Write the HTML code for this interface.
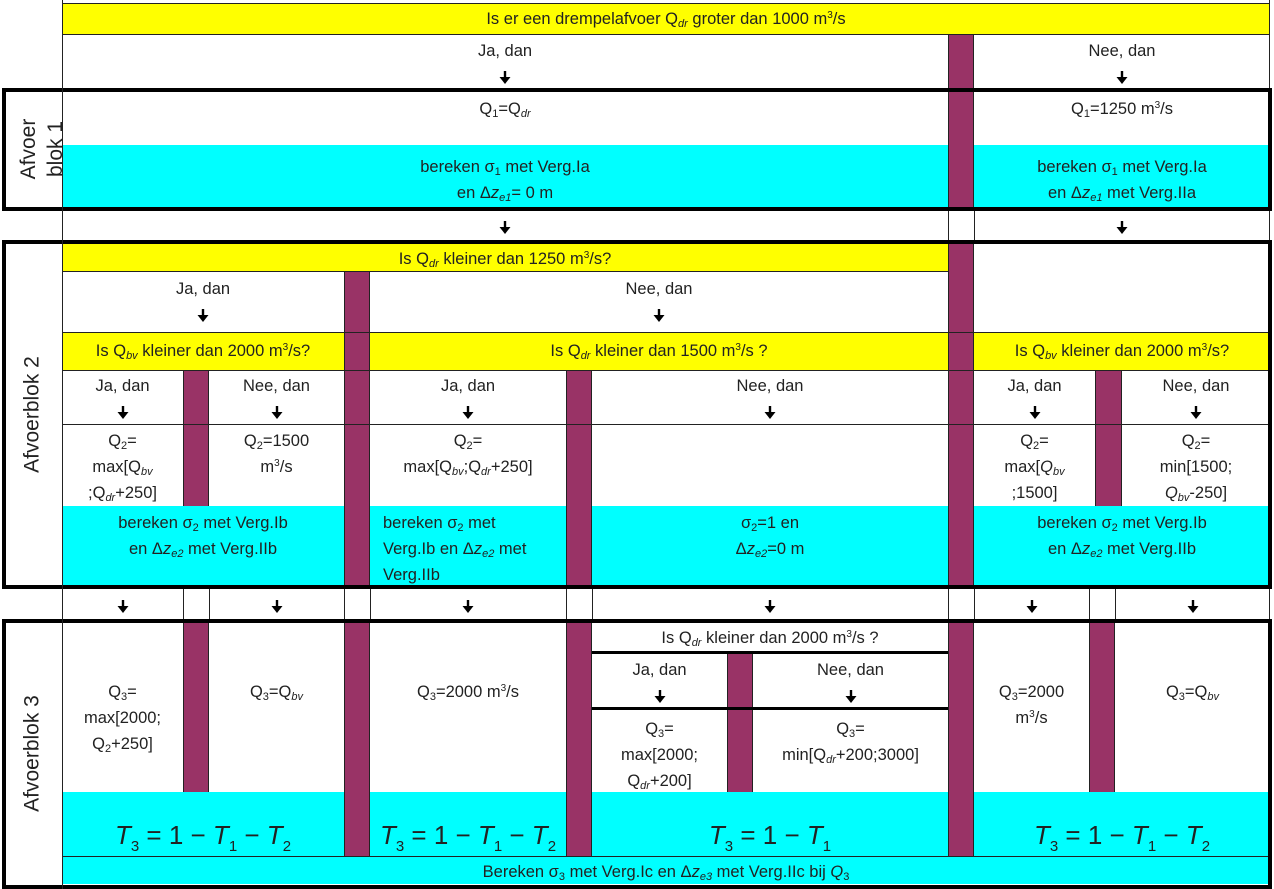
<!DOCTYPE html>
<html><head><meta charset="utf-8"><style>
body{margin:0;width:1274px;height:889px;position:relative;background:#fff;font-family:"Liberation Sans","DejaVu Sans",sans-serif;font-size:16.5px;color:#222;overflow:hidden}
div{position:absolute;box-sizing:border-box}
.t{text-align:center;line-height:26px;white-space:nowrap}
.y{background:#ffff00}.c{background:#00ffff}.p{background:#993366;border-left:1px solid #222;border-right:1px solid #222}
.hl{height:1px;background:#222}.vl{width:1px;background:#222}
.hk{height:3px;background:#000}
.blk{border:4px solid #000}
sub{font-size:11px;font-style:italic;vertical-align:-3px;line-height:0}
sub.n{font-style:normal}
sup{font-size:10px;vertical-align:6px;line-height:0}
.ar{display:inline-block;width:12px;height:13px;vertical-align:-2px}
.m{font-family:"Liberation Sans",sans-serif;font-size:26px;line-height:30px}
.m i{font-style:italic}
.m sub{font-size:15px;font-style:normal;vertical-align:-7px}
.lab{font-size:21px;transform:rotate(-90deg);transform-origin:center;text-align:center;line-height:23px;white-space:nowrap}
</style></head><body>
<svg width="0" height="0" style="position:absolute"><defs><symbol id="a" viewBox="0 0 12 13"><rect x="4.8" y="0" width="2.4" height="7" fill="#000"/><polygon points="0.5,6 11.5,6 6,13" fill="#000"/></symbol></defs></svg>
<!-- fills -->
<div class="y" style="left:62px;top:4px;width:1208px;height:30px"></div>
<div class="c" style="left:62px;top:145px;width:886px;height:63px"></div>
<div class="c" style="left:974px;top:145px;width:296px;height:63px"></div>
<div class="y" style="left:62px;top:243px;width:886px;height:28px"></div>
<div class="y" style="left:62px;top:332px;width:1208px;height:38px"></div>
<div class="c" style="left:62px;top:506px;width:1208px;height:80px"></div>
<div class="c" style="left:62px;top:792px;width:1208px;height:92px"></div>
<!-- purple -->
<div class="p" style="left:948px;top:34px;width:26px;height:176px"></div>
<div class="p" style="left:948px;top:241px;width:26px;height:347px"></div>
<div class="p" style="left:948px;top:620px;width:26px;height:236px"></div>
<div class="p" style="left:344px;top:271px;width:26px;height:317px"></div>
<div class="p" style="left:344px;top:620px;width:26px;height:236px"></div>
<div class="p" style="left:183px;top:370px;width:26px;height:136px"></div>
<div class="p" style="left:183px;top:620px;width:26px;height:172px"></div>
<div class="p" style="left:566px;top:370px;width:26px;height:218px"></div>
<div class="p" style="left:566px;top:620px;width:26px;height:236px"></div>
<div class="p" style="left:1095px;top:370px;width:27px;height:136px"></div>
<div class="p" style="left:1089px;top:620px;width:26px;height:172px"></div>
<div class="p" style="left:727px;top:652px;width:26px;height:140px"></div>
<!-- lines -->
<div class="vl" style="left:62px;top:0;height:889px"></div>
<div class="hl" style="left:62px;top:3px;width:1208px"></div>
<div class="hl" style="left:62px;top:34px;width:1208px"></div>
<div class="hl" style="left:62px;top:271px;width:886px"></div>
<div class="hl" style="left:62px;top:332px;width:1208px"></div>
<div class="hl" style="left:62px;top:370px;width:1208px"></div>
<div class="hl" style="left:62px;top:424px;width:1208px"></div>
<div class="hl" style="left:62px;top:856px;width:1208px"></div>
<div class="hk" style="left:592px;top:651px;width:356px"></div>
<div class="hk" style="left:592px;top:707px;width:356px"></div>
<div class="vl" style="left:948px;top:210px;height:31px"></div>
<div class="vl" style="left:974px;top:210px;height:31px"></div>
<div class="vl" style="left:183px;top:588px;height:32px"></div>
<div class="vl" style="left:209px;top:588px;height:32px"></div>
<div class="vl" style="left:344px;top:588px;height:32px"></div>
<div class="vl" style="left:370px;top:588px;height:32px"></div>
<div class="vl" style="left:566px;top:588px;height:32px"></div>
<div class="vl" style="left:592px;top:588px;height:32px"></div>
<div class="vl" style="left:948px;top:588px;height:32px"></div>
<div class="vl" style="left:974px;top:588px;height:32px"></div>
<div class="vl" style="left:1089px;top:588px;height:32px"></div>
<div class="vl" style="left:1115px;top:588px;height:32px"></div>
<div class="vl" style="left:1269px;top:0;height:889px"></div>
<!-- blocks -->
<div class="blk" style="left:2px;top:88px;width:1270px;height:123px"></div>
<div class="blk" style="left:2px;top:240px;width:1270px;height:349px"></div>
<div class="blk" style="left:2px;top:619px;width:1270px;height:270px"></div>
<div class="vl" style="left:62px;top:88px;height:801px"></div>
<!-- labels -->
<div class="lab" style="left:-18px;top:122px;width:120px;height:54px;line-height:27px">Afvoer<br>blok 1</div>
<div class="lab" style="left:-28px;top:403px;width:120px;height:23px">Afvoerblok 2</div>
<div class="lab" style="left:-28px;top:742px;width:120px;height:23px">Afvoerblok 3</div>
<!-- texts -->
<div class="t" style="left:62px;top:6px;width:1208px">Is er een drempelafvoer Q<sub>dr</sub> groter dan 1000 m<sup>3</sup>/s</div>
<div class="t" style="left:62px;top:38px;width:886px">Ja, dan<br><svg class="ar"><use href="#a"/></svg></div>
<div class="t" style="left:974px;top:38px;width:296px">Nee, dan<br><svg class="ar"><use href="#a"/></svg></div>
<div class="t" style="left:62px;top:96px;width:886px">Q<sub class="n">1</sub>=Q<sub>dr</sub></div>
<div class="t" style="left:974px;top:96px;width:296px">Q<sub class="n">1</sub>=1250 m<sup>3</sup>/s</div>
<div class="t" style="left:62px;top:154px;width:886px">bereken σ<sub class="n">1</sub> met Verg.Ia<br>en Δ<i>z</i><sub>e1</sub>= 0 m</div>
<div class="t" style="left:974px;top:154px;width:296px">bereken σ<sub class="n">1</sub> met Verg.Ia<br>en Δ<i>z</i><sub>e1</sub> met Verg.IIa</div>
<div class="t" style="left:62px;top:214px;width:886px"><svg class="ar"><use href="#a"/></svg></div>
<div class="t" style="left:974px;top:214px;width:296px"><svg class="ar"><use href="#a"/></svg></div>
<div class="t" style="left:62px;top:246px;width:886px">Is Q<sub>dr</sub> kleiner dan 1250 m<sup>3</sup>/s?</div>
<div class="t" style="left:62px;top:276px;width:282px">Ja, dan<br><svg class="ar"><use href="#a"/></svg></div>
<div class="t" style="left:370px;top:276px;width:578px">Nee, dan<br><svg class="ar"><use href="#a"/></svg></div>
<div class="t" style="left:62px;top:338px;width:282px">Is Q<sub>bv</sub> kleiner dan 2000 m<sup>3</sup>/s?</div>
<div class="t" style="left:370px;top:338px;width:578px">Is Q<sub>dr</sub> kleiner dan 1500 m<sup>3</sup>/s ?</div>
<div class="t" style="left:974px;top:338px;width:296px">Is Q<sub>bv</sub> kleiner dan 2000 m<sup>3</sup>/s?</div>
<div class="t" style="left:62px;top:373px;width:121px">Ja, dan<br><svg class="ar"><use href="#a"/></svg></div>
<div class="t" style="left:209px;top:373px;width:135px">Nee, dan<br><svg class="ar"><use href="#a"/></svg></div>
<div class="t" style="left:370px;top:373px;width:196px">Ja, dan<br><svg class="ar"><use href="#a"/></svg></div>
<div class="t" style="left:592px;top:373px;width:356px">Nee, dan<br><svg class="ar"><use href="#a"/></svg></div>
<div class="t" style="left:974px;top:373px;width:121px">Ja, dan<br><svg class="ar"><use href="#a"/></svg></div>
<div class="t" style="left:1122px;top:373px;width:148px">Nee, dan<br><svg class="ar"><use href="#a"/></svg></div>
<div class="t" style="left:62px;top:428px;width:121px">Q<sub class="n">2</sub>=<br>max[Q<sub>bv</sub><br>;Q<sub>dr</sub>+250]</div>
<div class="t" style="left:209px;top:428px;width:135px">Q<sub class="n">2</sub>=1500<br>m<sup>3</sup>/s</div>
<div class="t" style="left:370px;top:428px;width:196px">Q<sub class="n">2</sub>=<br>max[Q<sub>bv</sub>;Q<sub>dr</sub>+250]</div>
<div class="t" style="left:974px;top:428px;width:121px">Q<sub class="n">2</sub>=<br>max[<i>Q</i><sub>bv</sub><br>;1500]</div>
<div class="t" style="left:1122px;top:428px;width:148px">Q<sub class="n">2</sub>=<br>min[1500;<br><i>Q</i><sub>bv</sub>-250]</div>
<div class="t" style="left:62px;top:510px;width:282px">bereken σ<sub class="n">2</sub> met Verg.Ib<br>en Δ<i>z</i><sub>e2</sub> met Verg.IIb</div>
<div class="t" style="left:383px;top:510px;width:183px;text-align:left">bereken σ<sub class="n">2</sub> met<br>Verg.Ib en Δ<i>z</i><sub>e2</sub> met<br>Verg.IIb</div>
<div class="t" style="left:592px;top:510px;width:356px">σ<sub class="n">2</sub>=1 en<br>Δ<i>z</i><sub>e2</sub>=0 m</div>
<div class="t" style="left:974px;top:510px;width:296px">bereken σ<sub class="n">2</sub> met Verg.Ib<br>en Δ<i>z</i><sub>e2</sub> met Verg.IIb</div>
<div class="t" style="left:62px;top:593px;width:121px"><svg class="ar"><use href="#a"/></svg></div>
<div class="t" style="left:209px;top:593px;width:135px"><svg class="ar"><use href="#a"/></svg></div>
<div class="t" style="left:370px;top:593px;width:196px"><svg class="ar"><use href="#a"/></svg></div>
<div class="t" style="left:592px;top:593px;width:356px"><svg class="ar"><use href="#a"/></svg></div>
<div class="t" style="left:974px;top:593px;width:115px"><svg class="ar"><use href="#a"/></svg></div>
<div class="t" style="left:1115px;top:593px;width:155px"><svg class="ar"><use href="#a"/></svg></div>
<div class="t" style="left:62px;top:679px;width:121px">Q<sub class="n">3</sub>=<br>max[2000;<br>Q<sub class="n">2</sub>+250]</div>
<div class="t" style="left:209px;top:679px;width:135px">Q<sub class="n">3</sub>=Q<sub>bv</sub></div>
<div class="t" style="left:370px;top:679px;width:196px">Q<sub class="n">3</sub>=2000 m<sup>3</sup>/s</div>
<div class="t" style="left:592px;top:625px;width:356px">Is Q<sub>dr</sub> kleiner dan 2000 m<sup>3</sup>/s ?</div>
<div class="t" style="left:592px;top:657px;width:135px">Ja, dan<br><svg class="ar"><use href="#a"/></svg></div>
<div class="t" style="left:753px;top:657px;width:195px">Nee, dan<br><svg class="ar"><use href="#a"/></svg></div>
<div class="t" style="left:592px;top:716px;width:135px">Q<sub class="n">3</sub>=<br>max[2000;<br>Q<sub>dr</sub>+200]</div>
<div class="t" style="left:753px;top:716px;width:195px">Q<sub class="n">3</sub>=<br>min[Q<sub>dr</sub>+200;3000]</div>
<div class="t" style="left:974px;top:679px;width:115px">Q<sub class="n">3</sub>=2000<br>m<sup>3</sup>/s</div>
<div class="t" style="left:1115px;top:679px;width:155px">Q<sub class="n">3</sub>=Q<sub>bv</sub></div>
<div class="t m" style="left:62px;top:820px;width:282px"><i>T</i><sub>3</sub> = 1 − <i>T</i><sub>1</sub> − <i>T</i><sub>2</sub></div>
<div class="t m" style="left:370px;top:820px;width:196px"><i>T</i><sub>3</sub> = 1 − <i>T</i><sub>1</sub> − <i>T</i><sub>2</sub></div>
<div class="t m" style="left:592px;top:820px;width:356px"><i>T</i><sub>3</sub> = 1 − <i>T</i><sub>1</sub></div>
<div class="t m" style="left:974px;top:820px;width:296px"><i>T</i><sub>3</sub> = 1 − <i>T</i><sub>1</sub> − <i>T</i><sub>2</sub></div>
<div class="t" style="left:62px;top:859px;width:1208px">Bereken σ<sub class="n">3</sub> met Verg.Ic en Δ<i>z</i><sub>e3</sub> met Verg.IIc bij <i>Q</i><sub class="n">3</sub></div>
</body></html>
